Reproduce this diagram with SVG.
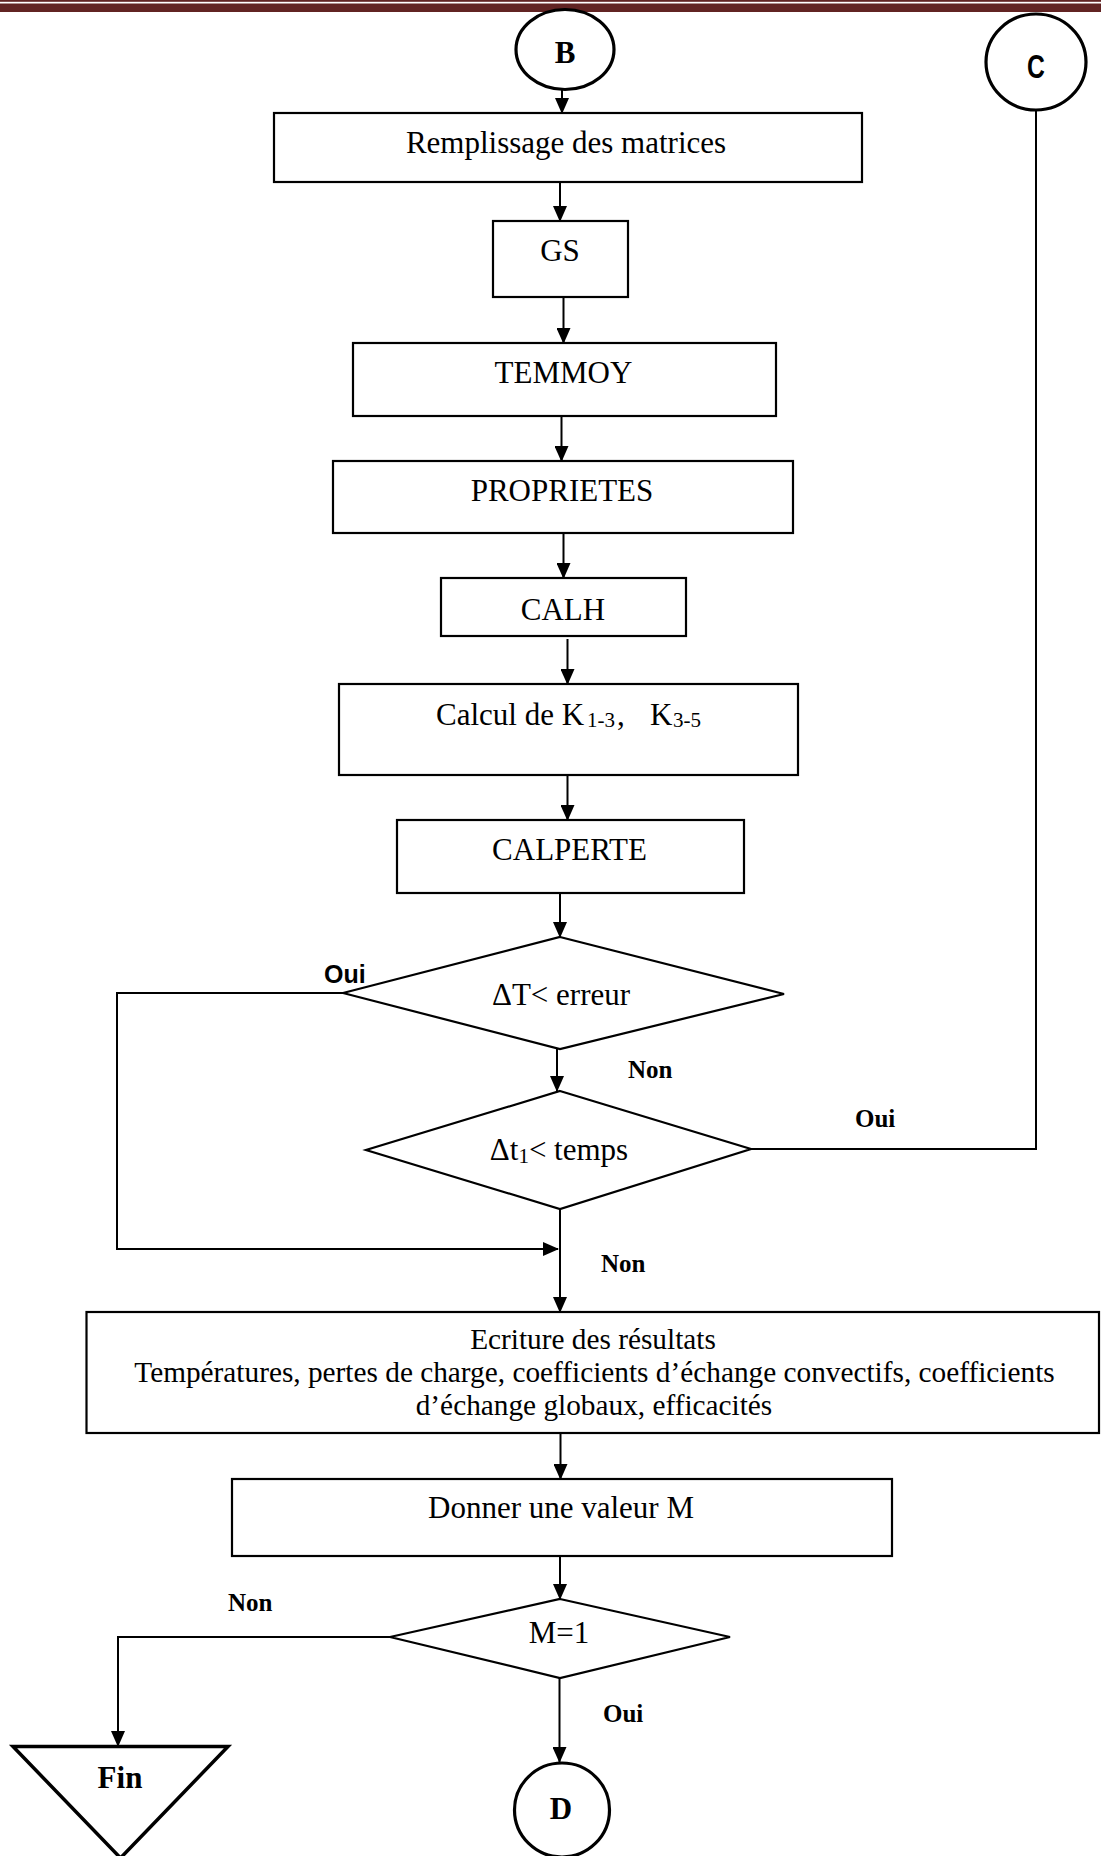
<svg xmlns="http://www.w3.org/2000/svg" width="1101" height="1856" viewBox="0 0 1101 1856">
<style>
.box{fill:#fff;stroke:#000;stroke-width:2.2}
.dia{fill:#fff;stroke:#000;stroke-width:2.2}
.circ{fill:#fff;stroke:#000;stroke-width:3.2}
.t{font-family:"Liberation Serif","Times New Roman",serif;font-size:31px;fill:#000}
.tm{font-family:"Liberation Serif","Times New Roman",serif;font-size:31px;fill:#000;text-anchor:middle}
.te{font-family:"Liberation Serif","Times New Roman",serif;font-size:29.3px;fill:#000;text-anchor:middle}
.lb{font-family:"Liberation Serif","Times New Roman",serif;font-size:25px;font-weight:bold;fill:#000}
.lbs{font-family:"Liberation Sans",Arial,sans-serif;font-size:25px;font-weight:bold;fill:#000}
.big{font-family:"Liberation Serif","Times New Roman",serif;font-size:31px;font-weight:bold;fill:#000;text-anchor:middle}
.con{fill:none;stroke:#000;stroke-width:2}
</style>
<defs>
<marker id="arr" viewBox="0 0 16 14" refX="15" refY="7" markerWidth="16" markerHeight="14" markerUnits="userSpaceOnUse" orient="auto">
<path d="M0,0 L16,7 L0,14 Z" fill="#000"/>
</marker>
</defs>
<rect width="1101" height="1856" fill="#fff"/>
<g id="header">
<rect x="0" y="0" width="1101" height="1.8" fill="#622423"/>
<rect x="0" y="3.5" width="1101" height="8.5" fill="#622423"/>
</g>
<g id="connectors">
<line class="con" x1="562" y1="90" x2="562" y2="113" marker-end="url(#arr)"/>
<line class="con" x1="560" y1="182" x2="560" y2="221" marker-end="url(#arr)"/>
<line class="con" x1="563.5" y1="297" x2="563.5" y2="343" marker-end="url(#arr)"/>
<line class="con" x1="561.5" y1="416" x2="561.5" y2="461" marker-end="url(#arr)"/>
<line class="con" x1="563.5" y1="533" x2="563.5" y2="578" marker-end="url(#arr)"/>
<line class="con" x1="567.5" y1="639" x2="567.5" y2="684" marker-end="url(#arr)"/>
<line class="con" x1="567.5" y1="769" x2="567.5" y2="820" marker-end="url(#arr)"/>
<line class="con" x1="560" y1="893" x2="560" y2="937" marker-end="url(#arr)"/>
<line class="con" x1="557" y1="1049" x2="557" y2="1091" marker-end="url(#arr)"/>
<line class="con" x1="560" y1="1209" x2="560" y2="1312" marker-end="url(#arr)"/>
<polyline class="con" points="343,993 117,993 117,1249 558,1249" stroke-width="2.6" marker-end="url(#arr)"/>
<polyline class="con" points="1036,110 1036,1149 751,1149"/>
<line class="con" x1="560.5" y1="1433" x2="560.5" y2="1479" marker-end="url(#arr)"/>
<line class="con" x1="560" y1="1556" x2="560" y2="1599" marker-end="url(#arr)"/>
<polyline class="con" points="390,1637 118,1637 118,1746" marker-end="url(#arr)"/>
<line class="con" x1="559.5" y1="1678" x2="559.5" y2="1762" marker-end="url(#arr)"/>
</g>
<g id="nodeB">
<ellipse class="circ" cx="565" cy="49.5" rx="49" ry="40"/>
<text class="big" x="565" y="62.5" font-size="30">B</text>
</g>
<g id="nodeC">
<ellipse class="circ" cx="1036" cy="62" rx="50" ry="48"/>
<text x="1036" y="78" font-family="'Liberation Sans',Arial,sans-serif" font-size="33" font-weight="bold" text-anchor="middle" transform="translate(1036,0) scale(0.75,1) translate(-1036,0)">C</text>
</g>
<g id="remplissage">
<rect class="box" x="274" y="113" width="588" height="69"/>
<text class="tm" x="566" y="153">Remplissage des matrices</text>
</g>
<g id="gs">
<rect class="box" x="493" y="221" width="135" height="76"/>
<text class="tm" x="560" y="261">GS</text>
</g>
<g id="temmoy">
<rect class="box" x="353" y="343" width="423" height="73"/>
<text class="tm" x="563.5" y="383">TEMMOY</text>
</g>
<g id="proprietes">
<rect class="box" x="333" y="461" width="460" height="72"/>
<text class="tm" x="562" y="501">PROPRIETES</text>
</g>
<g id="calh">
<rect class="box" x="441" y="578" width="245" height="58"/>
<text class="tm" x="563" y="620">CALH</text>
</g>
<g id="calcul">
<rect class="box" x="339" y="684" width="459" height="91"/>
<text class="t" x="436" y="725">Calcul de K<tspan x="587" dy="2" font-size="21">1-3</tspan><tspan x="617" dy="-2">,</tspan><tspan x="650">K</tspan><tspan x="673" dy="2" font-size="21">3-5</tspan></text>
</g>
<g id="calperte">
<rect class="box" x="397" y="820" width="347" height="73"/>
<text class="tm" x="569.5" y="860">CALPERTE</text>
</g>
<g id="test-erreur">
<polygon class="dia" points="560,937 784,994 560,1049 343,993"/>
<text class="tm" x="561" y="1005">ΔT&lt; erreur</text>
<text class="lbs" x="324" y="983">Oui</text>
<text class="lb" x="628" y="1078">Non</text>
</g>
<g id="test-temps">
<polygon class="dia" points="560,1091 751,1149 560,1209 366,1150"/>
<text class="tm" x="559" y="1160">Δt<tspan dy="3" font-size="21">1</tspan><tspan dy="-3">&lt; temps</tspan></text>
<text class="lb" x="855" y="1127">Oui</text>
<text class="lb" x="601" y="1272">Non</text>
</g>
<g id="ecriture">
<rect class="box" x="86.5" y="1312" width="1012.5" height="121"/>
<text class="te" x="593" y="1349">Ecriture des résultats</text>
<text class="te" x="594.5" y="1382">Températures, pertes de charge, coefficients d’échange convectifs, coefficients</text>
<text class="te" x="594" y="1415">d’échange globaux, efficacités</text>
</g>
<g id="donner">
<rect class="box" x="232" y="1479" width="660" height="77"/>
<text class="tm" x="561" y="1518">Donner une valeur M</text>
</g>
<g id="test-M">
<polygon class="dia" points="560,1599 730,1637 560,1678 390,1637"/>
<text class="tm" x="559" y="1643">M=1</text>
<text class="lb" x="228" y="1611">Non</text>
<text class="lb" x="603" y="1722">Oui</text>
</g>
<g id="fin">
<polygon points="13,1746.5 228,1746.5 120.5,1858" fill="#fff" stroke="#000" stroke-width="3.5"/>
<text class="big" x="120" y="1788" font-size="32">Fin</text>
</g>
<g id="nodeD">
<ellipse class="circ" cx="562" cy="1810" rx="47.5" ry="47"/>
<text class="big" x="561" y="1819" font-size="30">D</text>
</g>
</svg>
